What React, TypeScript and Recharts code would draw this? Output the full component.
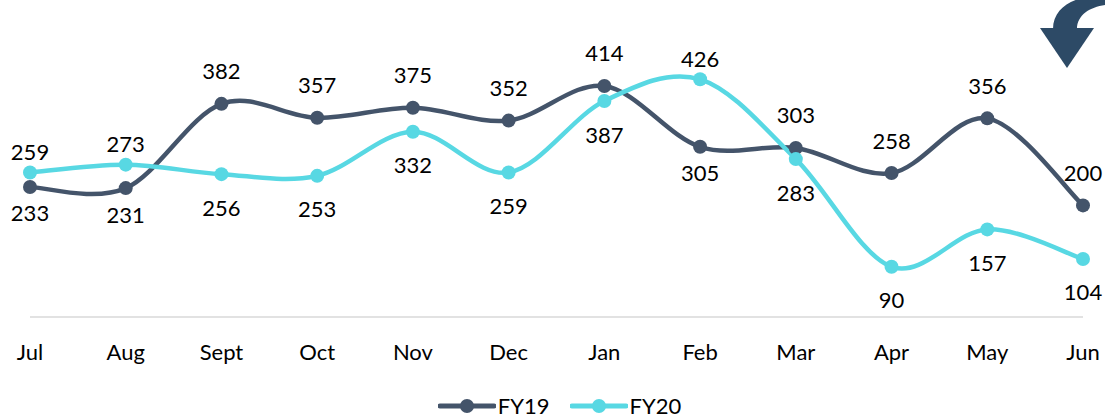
import { LineChart, Line, XAxis, YAxis, Legend, LabelList } from 'recharts'

const months = ['Jul', 'Aug', 'Sept', 'Oct', 'Nov', 'Dec', 'Jan', 'Feb', 'Mar', 'Apr', 'May', 'Jun']
const fy19 = [233, 231, 382, 357, 375, 352, 414, 305, 303, 258, 356, 200]
const fy20 = [259, 273, 256, 253, 332, 259, 387, 426, 283, 90, 157, 104]

// where each value label sits relative to its point
const fy19Place = ['b', 'b', 't', 't', 't', 't', 't', 'b', 't', 't', 't', 't']
const fy20Place = ['t', 't', 'b', 'b', 'b', 'b', 'b', 't', 'b', 'b', 'b', 'b']

const DARK = '#44546A'
const CYAN = '#58D8E3'
const FONT = 'Lato, "Open Sans", sans-serif'

const data = months.map((m, i) => ({ month: m, FY19: fy19[i], FY20: fy20[i] }))

// Excel-style smoothing: cubic bezier with catmull-rom control points
function excelCurve(context: any) {
  let pts: number[][] = []
  return {
    areaStart() {},
    areaEnd() {},
    lineStart() {
      pts = []
    },
    point(x: number, y: number) {
      pts.push([+x, +y])
    },
    lineEnd() {
      const n = pts.length
      if (!n) return
      context.moveTo(pts[0][0], pts[0][1])
      for (let i = 0; i < n - 1; i++) {
        const p0 = pts[i - 1] || pts[i]
        const p1 = pts[i]
        const p2 = pts[i + 1]
        const p3 = pts[i + 2] || pts[i + 1]
        context.bezierCurveTo(
          p1[0] + (p2[0] - p0[0]) / 6,
          p1[1] + (p2[1] - p0[1]) / 6,
          p2[0] - (p3[0] - p1[0]) / 6,
          p2[1] - (p3[1] - p1[1]) / 6,
          p2[0],
          p2[1]
        )
      }
    },
  }
}

// baseline offsets (px) for labels above / below the point
const makeLabel = (place: string[], up: number, down: number) => (props: any) => {
  const { x, y, value, index } = props
  const above = place[index] === 't'
  return (
    <text x={x} y={above ? y - up : y + down} textAnchor="middle" fontSize={22} fontFamily={FONT} fill="#000">
      {value}
    </text>
  )
}

const MonthTick = ({ x, y, payload }: any) => (
  <text x={x} y={y + 35} textAnchor="middle" fontSize={22} fontFamily={FONT} fill="#000">
    {payload.value}
  </text>
)

const LegendBox = () => {
  const items = [
    { name: 'FY19', color: DARK },
    { name: 'FY20', color: CYAN },
  ]
  return (
    <div
      style={{
        display: 'flex',
        justifyContent: 'center',
        height: 24,
        lineHeight: '24px',
        alignItems: 'center',
        fontFamily: FONT,
        fontSize: 22,
        paddingLeft: 6,
      }}
    >
      {items.map((it) => (
        <div key={it.name} style={{ display: 'flex', alignItems: 'center', margin: '0 10px' }}>
          <svg width={58} height={16}>
            <line x1={2} y1={8} x2={56} y2={8} stroke={it.color} strokeWidth={5} strokeLinecap="round" />
            <circle cx={29} cy={8} r={7} fill={it.color} />
          </svg>
          <span style={{ marginLeft: 2 }}>{it.name}</span>
        </div>
      ))}
    </div>
  )
}

export default function App() {
  return (
    <div style={{ position: 'absolute', left: 0, top: 0, width: 1105, height: 418, background: '#fff' }}>
      <LineChart width={1105} height={418} data={data} margin={{ top: 38, right: 22, left: 30, bottom: 0 }}>
        <XAxis
          dataKey="month"
          tickLine={false}
          axisLine={{ stroke: '#D9D9D9', strokeWidth: 1.5 }}
          height={77}
          tick={<MonthTick />}
          interval={0}
        />
        <YAxis hide domain={[0, 500]} />
        <Legend verticalAlign="bottom" height={24} content={<LegendBox />} />
        <Line
          dataKey="FY19"
          type={excelCurve as any}
          stroke={DARK}
          strokeWidth={4.5}
          dot={{ r: 7, fill: DARK, stroke: DARK, strokeWidth: 0 }}
          isAnimationActive={false}
        >
          <LabelList dataKey="FY19" content={makeLabel(fy19Place, 24.5, 34.5)} />
        </Line>
        <Line
          dataKey="FY20"
          type={excelCurve as any}
          stroke={CYAN}
          strokeWidth={4.5}
          dot={{ r: 7, fill: CYAN, stroke: CYAN, strokeWidth: 0 }}
          isAnimationActive={false}
        >
          <LabelList dataKey="FY20" content={makeLabel(fy20Place, 12.5, 41.5)} />
        </Line>
      </LineChart>
      <svg width={1105} height={80} style={{ position: 'absolute', left: 0, top: 0, pointerEvents: 'none' }}>
        <path d="M1053,29 C1053,12 1066,2 1082,-2 L1105,-2 L1105,5 C1090,7 1077,15 1077,29 Z" fill="#2D4A66" />
        <path d="M1040,28 L1094,28 L1067,68 Z" fill="#2D4A66" />
      </svg>
    </div>
  )
}
